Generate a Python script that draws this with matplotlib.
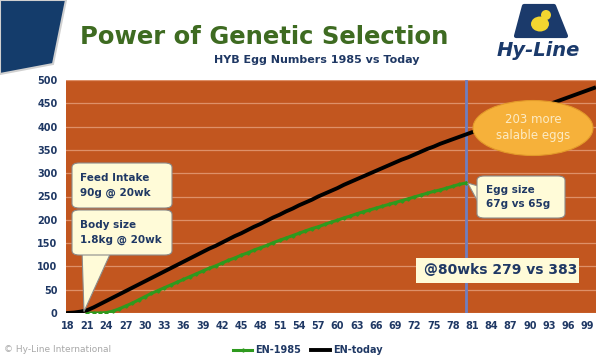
import matplotlib
matplotlib.use("Agg")
import matplotlib.pyplot as plt
import numpy as np
from matplotlib.patches import Polygon, FancyBboxPatch, Ellipse

# ---- data ----
weeks_today = list(range(18, 101))
en_today = [0, 1, 3, 6, 12, 19, 26, 33, 40, 47, 54, 61, 68, 75, 82, 89, 96, 103, 110, 117,
            124, 131, 138, 144, 151, 158, 165, 171, 178, 185, 191, 198, 205, 211, 218, 224,
            231, 237, 243, 250, 256, 262, 268, 275, 281, 287, 293, 299, 305, 311, 317, 323,
            329, 334, 340, 346, 352, 357, 363, 368, 373, 378, 383, 388, 393, 398, 403, 408,
            413, 418, 423, 428, 433, 438, 443, 448, 453, 458, 463, 468, 473, 478, 483]
weeks_1985 = list(range(21, 81))
en_1985 = [0, 0, 0, 1, 4, 9, 15, 21, 28, 35, 42, 48, 54, 60, 66, 72, 78, 84, 90, 96,
           101, 107, 113, 118, 124, 129, 135, 140, 145, 151, 156, 161, 166, 171, 176, 181,
           185, 190, 195, 199, 204, 208, 213, 217, 221, 225, 229, 233, 237, 241, 245, 249,
           253, 257, 261, 264, 268, 272, 276, 279]
x_ticks = list(range(18, 100, 3))
y_ticks = list(range(0, 501, 50))
marker_week = 80

W, H = 600, 361
fig = plt.figure(figsize=(6, 3.61), dpi=100)
fig.patch.set_facecolor("white")

def fx(px):
    return px / W

def fy(py):
    return 1 - py / H

navy = "#1F3864"
ax = fig.add_axes([fx(66), fy(313), fx(596) - fx(66), fy(80) - fy(313)])
ax.set_facecolor("#C2561F")
for s in ax.spines.values():
    s.set_visible(False)
ax.set_xlim(17.7, 100.3)
ax.set_ylim(0, 500)
ax.set_yticks(y_ticks)
ax.set_xticks(x_ticks)
ax.tick_params(length=0, labelsize=7, labelcolor=navy, pad=6)
for lbl in ax.get_xticklabels() + ax.get_yticklabels():
    lbl.set_fontweight("bold")
ax.grid(axis="y", color="#DE9068", lw=0.9)
ax.set_axisbelow(True)

ax.axvline(marker_week, color="#6F7FBF", lw=2, zorder=2)
l1, = ax.plot(weeks_1985, en_1985, color="#2E9A1E", lw=2.2, marker="D", ms=1.6, zorder=3, label="EN-1985")
l2, = ax.plot(weeks_today, en_today, color="black", lw=2.8, zorder=4, label="EN-today")

leg = fig.legend(handles=[l1, l2], loc="center", bbox_to_anchor=(fx(308), fy(350)), ncol=2,
                 frameon=False, fontsize=7, handlelength=2.0, columnspacing=1.0, handletextpad=0.3)
for t in leg.get_texts():
    t.set_color(navy)
    t.set_fontweight("bold")

# ---- callouts ----
box_fc = "#FFFBD8"
box_ec = "#8C8C8C"

def fbox(x0, y0, x1, y1, pad=4):
    p = FancyBboxPatch((fx(x0), fy(y1)), fx(x1) - fx(x0), fy(y0) - fy(y1),
                       boxstyle="round,pad=0,rounding_size=0.012", transform=fig.transFigure,
                       fc=box_fc, ec=box_ec, lw=0.8, zorder=6)
    fig.add_artist(p)

# pointer for body size box
tip = ax.transData.transform((20.5, 3))
tipf = fig.transFigure.inverted().transform(tip)
tri = Polygon([(fx(82), fy(250)), (fx(112), fy(250)), tuple(tipf)], closed=True,
              transform=fig.transFigure, fc=box_fc, ec=box_ec, lw=0.8, zorder=5)
fig.add_artist(tri)
fbox(72, 163, 172, 208)
fbox(72, 210, 172, 255)
fig.text(fx(80), fy(185.5), "Feed Intake\n90g @ 20wk", fontsize=7.5, color=navy, fontweight="bold",
         va="center", ha="left", zorder=7, linespacing=1.5)
fig.text(fx(80), fy(232.5), "Body size\n1.8kg @ 20wk", fontsize=7.5, color=navy, fontweight="bold",
         va="center", ha="left", zorder=7, linespacing=1.5)

# egg size callout
tip2 = fig.transFigure.inverted().transform(ax.transData.transform((80.3, 279)))
tri2 = Polygon([(fx(478), fy(186)), (fx(478), fy(202)), tuple(tip2)], closed=True,
               transform=fig.transFigure, fc=box_fc, ec=box_ec, lw=0.8, zorder=5)
fig.add_artist(tri2)
fbox(477, 176, 565, 218)
fig.text(fx(486), fy(197), "Egg size\n67g vs 65g", fontsize=7.5, color=navy, fontweight="bold",
         va="center", ha="left", zorder=7, linespacing=1.5)

# ellipse
ell = Ellipse((fx(533), fy(128)), fx(120), 55 / H, transform=fig.transFigure,
              fc="#F6B13A", ec="#E39A2A", lw=0.8, zorder=6)
fig.add_artist(ell)
fig.text(fx(533), fy(128), "203 more\nsalable eggs", fontsize=8.5, color="#FCEBC4",
         ha="center", va="center", zorder=7, linespacing=1.3)

# @80wks box
r = FancyBboxPatch((fx(416), fy(283)), fx(163), 25 / H, boxstyle="square,pad=0",
                   transform=fig.transFigure, fc=box_fc, ec="none", zorder=6)
fig.add_artist(r)
fig.text(fx(424), fy(270.5), "@80wks 279 vs 383", fontsize=10, color=navy, fontweight="bold",
         ha="left", va="center", zorder=7)

# ---- header ----
dec = Polygon([(0, 1), (fx(66), 1), (fx(53), fy(64)), (0, fy(74))], closed=True,
              transform=fig.transFigure, fc="#143C6B", ec="#D0D0D0", lw=1.5, zorder=1)
fig.add_artist(dec)
fig.text(fx(264), fy(37), "Power of Genetic Selection", fontsize=17.5, fontweight="bold",
         color="#3E6B21", ha="center", va="center")
fig.text(fx(317), fy(60), "HYB Egg Numbers 1985 vs Today", fontsize=8, fontweight="bold",
         color=navy, ha="center", va="center")

# logo
logo = Polygon([(fx(524), fy(6)), (fx(554), fy(6)), (fx(566), fy(36)), (fx(516), fy(36))],
               closed=True, transform=fig.transFigure, fc="#1B3A6B", ec="#1B3A6B", lw=3,
               joinstyle="round", zorder=1)
fig.add_artist(logo)
chick = Ellipse((fx(540), fy(24)), fx(18), 15 / H, transform=fig.transFigure, fc="#F2D530", zorder=2)
fig.add_artist(chick)
head = Ellipse((fx(546), fy(15)), fx(10), 10 / H, transform=fig.transFigure, fc="#F2D530", zorder=2)
fig.add_artist(head)
fig.text(fx(538), fy(50), "Hy-Line", fontsize=14, fontweight="bold", fontstyle="italic",
         color="#1B3A6B", ha="center", va="center")

fig.text(fx(4), fy(349), "© Hy-Line International", fontsize=6.5, color="#A8A8A8",
         ha="left", va="center")

fig.savefig("out.png", dpi=100)
